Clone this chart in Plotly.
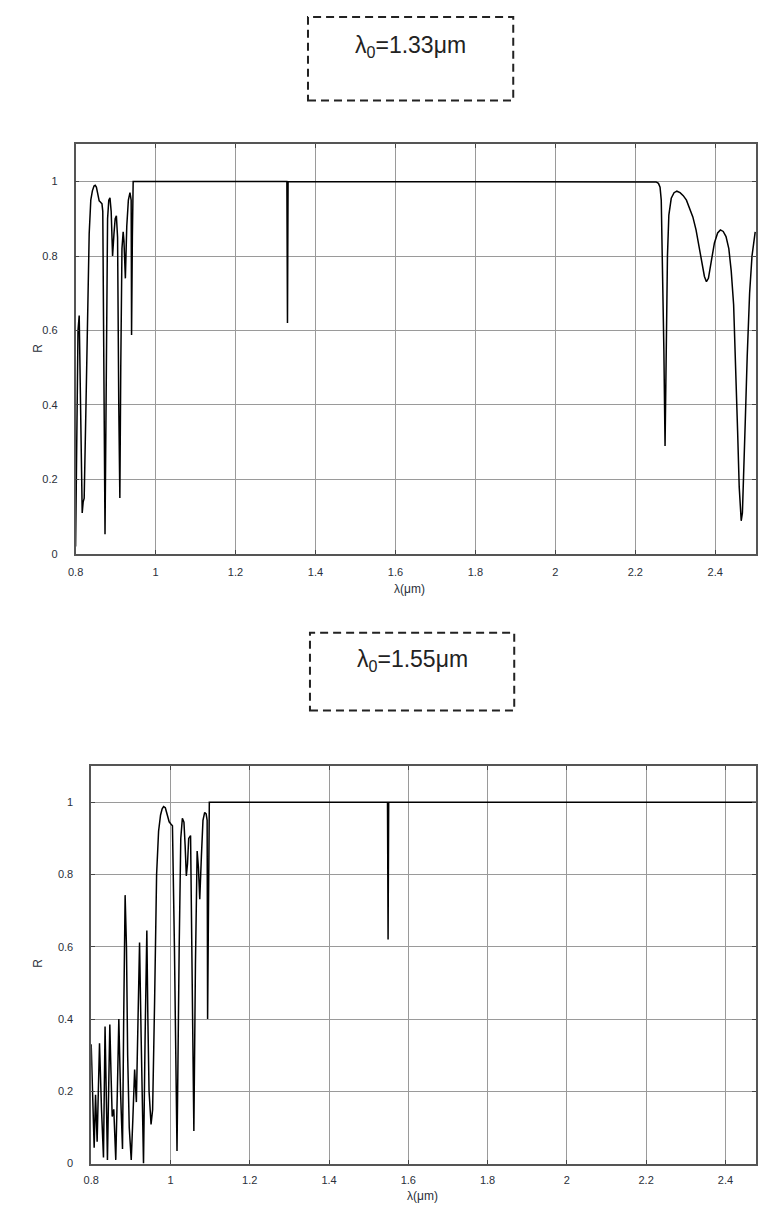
import plotly.graph_objects as go

# ---------------- data ----------------
lam_133 = [0.800, 0.8035, 0.806, 0.809, 0.812, 0.8165, 0.819, 0.8215, 0.826, 0.830, 0.834, 0.838,
           0.842, 0.846, 0.849, 0.852, 0.856, 0.859, 0.862, 0.866, 0.868, 0.8705, 0.8736, 0.877,
           0.880, 0.883, 0.886, 0.889, 0.8925, 0.896, 0.899, 0.902, 0.905, 0.908, 0.9107, 0.913,
           0.916, 0.919, 0.921, 0.9245, 0.928, 0.932, 0.936, 0.939, 0.940, 0.942, 0.944,
           1.3285, 1.3300, 1.3315,
           2.244, 2.252, 2.258, 2.262, 2.265, 2.268, 2.2715, 2.2745, 2.2775, 2.2805, 2.284, 2.290,
           2.297, 2.304, 2.312, 2.320, 2.328, 2.336, 2.344, 2.352, 2.360, 2.367, 2.373, 2.378,
           2.383, 2.390, 2.398, 2.406, 2.413, 2.420, 2.427, 2.434, 2.440, 2.446, 2.451, 2.456,
           2.460, 2.463, 2.465, 2.468, 2.471, 2.475, 2.480, 2.486, 2.492, 2.500]
R_133 = [0.02, 0.50, 0.60, 0.64, 0.42, 0.11, 0.14, 0.15, 0.40, 0.68, 0.86, 0.95,
         0.975, 0.988, 0.99, 0.985, 0.965, 0.948, 0.945, 0.94, 0.92, 0.50, 0.053, 0.50,
         0.90, 0.950, 0.956, 0.92, 0.80, 0.86, 0.900, 0.908, 0.85, 0.40, 0.15, 0.50,
         0.82, 0.865, 0.84, 0.74, 0.88, 0.950, 0.97, 0.95, 0.588, 0.85, 1.0,
         1.0, 0.62, 1.0,
         1.0, 0.999, 0.995, 0.985, 0.95, 0.80, 0.55, 0.29, 0.55, 0.80, 0.91, 0.955,
         0.970, 0.974, 0.970, 0.962, 0.950, 0.930, 0.905, 0.870, 0.825, 0.78, 0.745, 0.731,
         0.74, 0.785, 0.835, 0.862, 0.870, 0.866, 0.852, 0.82, 0.76, 0.67, 0.52, 0.33,
         0.18, 0.11, 0.089, 0.11, 0.20, 0.35, 0.53, 0.70, 0.80, 0.865]

lam_155 = [0.800, 0.804, 0.8075, 0.811, 0.815, 0.818, 0.821, 0.826, 0.831, 0.835, 0.838, 0.841,
           0.844, 0.847, 0.850, 0.853, 0.857, 0.862, 0.866, 0.8697, 0.874, 0.879, 0.882, 0.8856,
           0.889, 0.892, 0.896, 0.901, 0.905, 0.9096, 0.914, 0.918, 0.922, 0.926, 0.932, 0.936,
           0.9404, 0.943, 0.946, 0.951, 0.955, 0.960, 0.965, 0.970, 0.975, 0.979, 0.9827, 0.987,
           0.9927, 0.9967, 1.001, 1.005, 1.010, 1.0165, 1.022, 1.026, 1.030, 1.034, 1.037,
           1.040, 1.043, 1.046, 1.0507, 1.055, 1.059, 1.063, 1.0673, 1.0705, 1.0739, 1.078,
           1.082, 1.0863, 1.090, 1.0925, 1.0937, 1.098,
           1.5475, 1.5490, 1.5505,
           2.480]
R_155 = [0.33, 0.20, 0.044, 0.19, 0.06, 0.20, 0.333, 0.15, 0.017, 0.379, 0.20, 0.01,
         0.20, 0.385, 0.25, 0.13, 0.15, 0.01, 0.20, 0.40, 0.20, 0.04, 0.40, 0.743,
         0.60, 0.30, 0.10, 0.01, 0.12, 0.26, 0.17, 0.40, 0.612, 0.35, 0.0, 0.35,
         0.645, 0.40, 0.20, 0.108, 0.149, 0.45, 0.80, 0.92, 0.965, 0.982, 0.988, 0.985,
         0.963, 0.946, 0.94, 0.935, 0.60, 0.035, 0.60, 0.90, 0.956, 0.945, 0.88,
         0.796, 0.83, 0.90, 0.908, 0.50, 0.09, 0.55, 0.865, 0.82, 0.732, 0.85,
         0.95, 0.972, 0.968, 0.95, 0.40, 1.0,
         1.0, 0.62, 1.0,
         1.0]

x_ticks = [0.8, 1, 1.2, 1.4, 1.6, 1.8, 2, 2.2, 2.4]
x_ticklabels = ["0.8", "1", "1.2", "1.4", "1.6", "1.8", "2", "2.2", "2.4"]
y_ticks = [0, 0.2, 0.4, 0.6, 0.8, 1]
y_ticklabels = ["0", "0.2", "0.4", "0.6", "0.8", "1"]
titles = ["λ<sub>0</sub>=1.33μm", "λ<sub>0</sub>=1.55μm"]

# ---------------- figure ----------------
W, H = 758, 1212
fig = go.Figure()

fig.add_trace(go.Scatter(x=lam_133, y=R_133, mode="lines",
                         line=dict(color="black", width=1.5), xaxis="x", yaxis="y",
                         showlegend=False, hoverinfo="skip"))
fig.add_trace(go.Scatter(x=lam_155, y=R_155, mode="lines",
                         line=dict(color="black", width=1.5), xaxis="x2", yaxis="y2",
                         showlegend=False, hoverinfo="skip"))

def px(x):
    return x / W

def py(y):
    return 1 - y / H

axis_common = dict(showgrid=True, gridcolor="#9a9a9a", gridwidth=1,
                   showline=True, linecolor="#555555", linewidth=1.5, mirror="ticks",
                   ticks="inside", ticklen=4, tickcolor="#444444", zeroline=False,
                   tickfont=dict(family="Liberation Sans, Arial", size=11, color="#2a2f3a"))

fig.update_layout(
    width=W, height=H,
    margin=dict(l=0, r=0, t=0, b=0),
    paper_bgcolor="white", plot_bgcolor="white",
    xaxis=dict(domain=[px(68.5), 1.0], range=[0.8, 2.502], anchor="y",
               tickvals=x_ticks, ticktext=x_ticklabels, ticklabelstandoff=7, **axis_common),
    yaxis=dict(domain=[py(556.7), py(145)], range=[0, 1.1], anchor="x",
               tickvals=y_ticks, ticktext=y_ticklabels, ticklabelstandoff=14, **axis_common),
    xaxis2=dict(domain=[px(84.3), 1.0], range=[0.8, 0.8 + (W - 84.3) / 401.7], anchor="y2",
                tickvals=x_ticks, ticktext=x_ticklabels, ticklabelstandoff=6, **axis_common),
    yaxis2=dict(domain=[py(1169.3), py(770)], range=[0, 1.1], anchor="x2",
                tickvals=y_ticks, ticktext=y_ticklabels, ticklabelstandoff=14, **axis_common),
)

# title boxes (dashed)
boxes = [(304, 512, 17, 101, 47), (306, 513, 636, 714, 664)]
for (x0, x1, y0, y1, yc), t in zip(boxes, titles):
    fig.add_shape(type="rect", xref="paper", yref="paper",
                  x0=px(x0), x1=px(x1), y0=py(y1), y1=py(y0),
                  line=dict(color="#222222", width=2, dash="8px,5px"))
    fig.add_annotation(xref="paper", yref="paper", x=px((x0 + x1) / 2), y=py(yc),
                       text=t, showarrow=False, xanchor="center", yanchor="middle",
                       font=dict(family="Liberation Sans, Arial", size=23, color="#222222"))

# axis titles
lab_font = dict(family="Liberation Sans, Arial", size=12, color="#2a2f3a")
for (xr, yr) in [(31, 350), (31, 968)]:
    fig.add_annotation(xref="paper", yref="paper", x=px(xr), y=py(yr), text="R",
                       textangle=-90, showarrow=False, xanchor="center", yanchor="middle",
                       font=lab_font)
for (xr, yr) in [(407, 592), (420, 1202)]:
    fig.add_annotation(xref="paper", yref="paper", x=px(xr), y=py(yr), text="λ(μm)",
                       showarrow=False, xanchor="center", yanchor="middle", font=lab_font)

fig.write_html("out.html")
